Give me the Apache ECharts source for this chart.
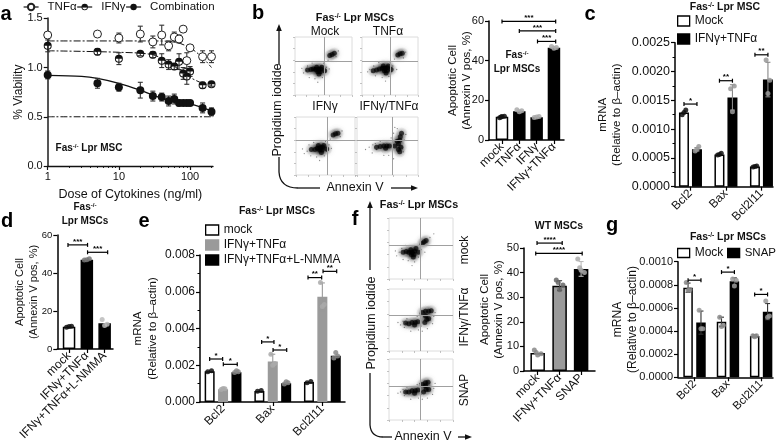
<!DOCTYPE html>
<html><head><meta charset="utf-8">
<style>html,body{margin:0;padding:0;background:#fff}#c{width:778px;height:444px;filter:blur(.3px)}</style>
<script src="https://cdn.jsdelivr.net/npm/echarts@6/dist/echarts.min.js"></script>
</head><body><div id="c"></div>
<script>
// ---------- DATA ----------
const doses=[1,5,10,20,30,40,50,60,70,80,90,100,150,200];
const tnfViability=[1.33,1.34,1.30,1.34,1.26,1.33,1.22,1.31,1.29,1.39,1.07,1.20,1.11,1.11];
const tnfErr=[.03,.02,.05,.08,.06,.1,.05,.05,.04,.02,.08,.02,.06,.06];
const ifnViability=[1.22,1.16,1.09,1.14,1.13,1.07,1.03,1.01,1.06,.94,.91,.96,.82,.83];
const ifnErr=[.06,.03,.06,.02,.03,.07,.05,.03,.08,.06,.08,.05,.03,.02];
const comboViability=[.925,.84,.80,.77,.71,.70,.66,.68,.64,.64,.64,.64,.59,.55];
const comboErr=[.04,.05,.04,.08,.05,.04,.05,.05,.03,.02,.02,.02,.05,.04];
const tnfFit=[[1,1.27],[10,1.27],[30,1.27],[60,1.26],[100,1.2],[150,1.1],[200,1.0]];
const ifnFit=[[1,1.17],[10,1.155],[30,1.13],[50,1.05],[70,.98],[100,.9],[150,.84],[200,.82]];
const comboFit=[[1,.92],[3,.91],[5,.89],[10,.84],[20,.77],[30,.72],[50,.67],[100,.63],[200,.56]];
const halfLine=[[1,.5],[210,.5]];
const doseMajorTicks=[1,10,100];
const doseMinorTicks=[2,3,4,5,6,7,8,9,20,30,40,50,60,70,80,90,200];

const bLabels=['mock','TNFα','IFNγ','IFNγ+TNFα'];
const bMock=[11.7], bTreated=[14.5,11.5,46.5];
const bMockDots=[[11.2,12,11.8,11.6]], bTreatedDots=[[15.2,14.8,14.3],[11.3,11.9,11.6],[47.2,46.6,46.2]];
const bSig=[59.8,55,49.7];

const geneLabels=['Bcl2','Bax','Bcl2l11'];
const cMock=[.00129,.00056,.00035], cTreated=[.00065,.00155,.00186];
const cMockDots=[[.00125,.00133,.00129],[.00055,.00058,.00056],[.00034,.00036,.00035]];
const cTreatedDots=[[.00062,.00070,.00065],[.00170,.00175,.00130],[.00220,.00185,.00162]];
const cTreatedErr=[.00003,.00022,.0003];
const cSig=[.001435,.00184,.00229];

const dLabels=['mock','IFNγ+TNFα','IFNγ+TNFα+L-NMMA'];
const dMock=[11.7], dTreated=[47], dNmma=[13.5];
const dMockDots=[[11.5,12,11.8]], dTreatedDots=[[46.8,47.5,47]], dNmmaDots=[[15.5,13,12.4]];
const dSig=[54.8,50.9];

const eMock=[.00167,.0006,.00109], eTreated=[.0007,.0022,.00573], eNmma=[.00162,.00102,.00252];
const eMockDots=[[.00165,.0017],[.00058,.00062],[.00105,.00112]];
const eTreatedDots=[[.00068,.00072,.00074],[.0026,.0021,.0020],[.0065,.0053,.0052]];
const eNmmaDots=[[.0016,.00165,.0017],[.00098,.00105,.0011],[.0024,.0025,.0027]];
const eTreatedErr=[.00005,.0004,.00075];
const eSig=[.00234,.00205,.00327,.00283,.00677,.00711];

const fLabels=['mock','IFNγ+TNFα','SNAP'];
const fMock=[7.3], fTreated=[34.7], fSnap=[41.5];
const fMockDots=[[8.5,7,6.5,7.5]], fTreatedDots=[[37,35,33,36]], fSnapDots=[[45.5,40,41,42]];
const fSnapErr=[3], fTreatedErr=[2];
const fSig=[52,47.8];

const gMock=[.000775,.00048,.000357], gSnap=[.000473,.00083,.000568];
const gMockDots=[[.00082,.00076,.00075],[.00052,.00045,.00044],[.00036,.00036,.00035]];
const gSnapDots=[[.00058,.00042,.00042],[.00085,.00084,.00079],[.00066,.00053,.00052]];
const gSnapErr=[.0001,.00003,.00007], gMockErr=[.00004,.00004,.00001];
const gSig=[.00084,.00091,.000717];

// flow cytometry clouds, read by eye (x,y in plot percent)
const flowBMockDense=[[41,44],[36,44],[45,45],[40,40],[44,40],[32,45],[38,48],[47,48],[28,44],[42,36],[22,43],[52,42],[65,70],[61,68],[69,72]];
const flowBMockSparse=[[20,42],[15,38],[25,30],[30,55],[52,38],[55,48],[58,60],[50,55],[35,28],[48,30],[22,50],[60,45],[72,66],[76,76],[12,46],[40,22]];
const flowBTnfDense=[[41,46],[36,46],[45,47],[40,42],[44,42],[31,45],[38,50],[47,50],[26,43],[43,38],[20,42],[52,44],[68,71],[64,69],[72,72]];
const flowBTnfSparse=[[18,40],[14,44],[24,33],[30,56],[53,40],[55,50],[58,62],[50,57],[36,30],[48,32],[21,50],[62,44],[74,64],[78,74],[10,40],[42,24]];
const flowBIfnDense=[[41,47],[36,46],[45,48],[40,43],[44,43],[32,44],[38,51],[47,51],[43,39],[26,44],[52,45],[67,71],[63,69],[71,72]];
const flowBIfnSparse=[[19,41],[14,37],[25,33],[30,56],[52,41],[56,52],[58,62],[50,58],[35,31],[48,33],[22,52],[60,46],[75,66],[78,76],[11,45],[40,25]];
const flowBComboDense=[[49,50],[44,50],[53,50],[47,46],[38,49],[32,48],[70,60],[68,54],[72,48],[68,44],[71,66],[73,72],[70,40],[66,58],[62,50]];
const flowBComboSparse=[[20,48],[14,44],[25,38],[30,54],[32,44],[56,64],[60,72],[58,40],[52,34],[44,34],[78,60],[80,70],[66,80],[62,82],[76,40],[60,28],[38,58],[26,52]];
const flowFMockDense=[[36,44],[31,44],[40,46],[35,40],[39,40],[27,45],[34,48],[42,50],[38,36],[22,44],[46,44],[55,61],[52,58],[58,63]];
const flowFMockSparse=[[16,44],[12,38],[22,32],[26,55],[46,36],[50,48],[48,56],[44,54],[30,30],[40,28],[20,50],[56,44],[64,68],[70,74],[10,46],[36,22]];
const flowFIfnDense=[[41,46],[36,46],[45,47],[31,44],[40,42],[26,45],[59,51],[56,46],[62,52],[57,57],[57,64],[62,64],[52,62],[66,65]];
const flowFIfnSparse=[[18,42],[14,46],[24,38],[28,52],[50,40],[48,60],[46,34],[70,56],[72,62],[34,32],[68,44],[60,36],[26,44],[22,48],[44,56],[52,32]];
const flowFSnapDense=[[41,48],[36,48],[45,49],[31,46],[40,44],[26,46],[58,50],[54,46],[62,50],[57,56],[57,61],[61,62],[52,58]];
const flowFSnapSparse=[[18,46],[14,44],[24,40],[28,54],[50,42],[48,60],[46,36],[70,52],[72,60],[34,34],[68,42],[60,36],[26,46],[22,50],[44,58],[52,34]];

// ---------- HELPERS ----------
const FF='"Liberation Sans",Arial,sans-serif';
const grid=[],xAxis=[],yAxis=[],series=[],graphic=[],legend=[];

function errSeries(gi,data,color,cap){
  return {type:'custom',xAxisIndex:gi,yAxisIndex:gi,z:4,silent:true,data,encode:{x:0,y:[1,2]},
    renderItem(p,api){
      const a=api.coord([api.value(0),api.value(1)]),b=api.coord([api.value(0),api.value(2)]);
      const st={stroke:color,lineWidth:1.1},c=cap||2.5;
      return {type:'group',children:[
        {type:'line',shape:{x1:a[0],y1:a[1],x2:b[0],y2:b[1]},style:st},
        {type:'line',shape:{x1:a[0]-c,y1:a[1],x2:a[0]+c,y2:a[1]},style:st},
        {type:'line',shape:{x1:b[0]-c,y1:b[1],x2:b[0]+c,y2:b[1]},style:st}]};
    }};
}
function sigSeries(gi,data,label){
  return {type:'custom',xAxisIndex:gi,yAxisIndex:gi,z:6,silent:true,data,encode:{x:[0,1],y:2},
    renderItem(p,api){
      const a=api.coord([api.value(0),api.value(2)]),b=api.coord([api.value(1),api.value(2)]);
      const st={stroke:'#000',lineWidth:1.2};
      return {type:'group',children:[
        {type:'line',shape:{x1:a[0],y1:a[1],x2:b[0],y2:b[1]},style:st},
        {type:'line',shape:{x1:a[0],y1:a[1]-2,x2:a[0],y2:a[1]+2},style:st},
        {type:'line',shape:{x1:b[0],y1:b[1]-2,x2:b[0],y2:b[1]+2},style:st},
        {type:'text',style:{text:label[p.dataIndex],x:(a[0]+b[0])/2,y:a[1]-3.5,textAlign:'center',textVerticalAlign:'middle',font:'bold 8px '+FF,fill:'#000'}}]};
    }};
}
const spread=[-.14,.14,0,-.06,.06];
function barPanel(c){
  const gi=grid.length;
  grid.push({left:c.x0,top:c.y0,width:c.x1-c.x0,height:c.y1-c.y0});
  const labelMap={};c.centers.forEach((v,i)=>labelMap[v]=c.labels[i]);
  xAxis.push({type:'value',gridIndex:gi,min:0,max:c.xMax,splitLine:{show:false},
    axisLine:{lineStyle:{color:'#000',width:1.5}},
    axisTick:{show:true,length:4,customValues:c.centers,lineStyle:{color:'#000',width:1.2}},
    axisLabel:{customValues:c.centers,rotate:45,margin:5,color:'#111',fontSize:c.xFont,fontFamily:FF,formatter:v=>labelMap[v]||''}});
  yAxis.push({type:'value',gridIndex:gi,min:0,max:c.yMax,interval:c.yInt,splitLine:{show:false},
    name:c.yName,nameLocation:'middle',nameGap:c.nameGap,nameMoveOverlap:false,nameTextStyle:{color:'#111',fontSize:c.nameFont||11.5,lineHeight:c.nameLH||14,fontFamily:FF},
    axisLine:{show:true,lineStyle:{color:'#000',width:1.5}},
    axisTick:{show:true,length:4,lineStyle:{color:'#000',width:1.2}},
    minorTick:{show:!!c.minor,splitNumber:2,length:2.5,lineStyle:{color:'#000',width:1}},
    axisLabel:{margin:5,color:'#111',fontSize:c.yFont,fontFamily:FF,formatter:v=>v.toFixed(c.dec)}});
  c.bars.forEach(b=>{
    series.push({type:'bar',name:b.name,xAxisIndex:gi,yAxisIndex:gi,barWidth:c.barW,barGap:'-100%',z:2,silent:true,
      itemStyle:{color:b.fill,borderColor:b.stroke||'#000',borderWidth:1.5},
      data:b.vals.map((v,i)=>[c.xs[b.slots[i]],v])});
    if(b.errs) series.push(errSeries(gi,b.errs.map((e,i)=>[c.xs[b.slots[i]],b.vals[i]-e,b.vals[i]+e]),b.errColor||'#555'));
    const pts=[];
    b.dots.forEach((arr,i)=>arr.forEach((v,j)=>pts.push([c.xs[b.slots[i]]+spread[j%5]*(c.spreadK||1),v])));
    series.push({type:'scatter',xAxisIndex:gi,yAxisIndex:gi,z:5,silent:true,symbolSize:c.dotSize||5,data:pts,
      itemStyle:{color:b.dotColor,opacity:.85}});
  });
  series.push(sigSeries(gi,c.sig,c.sigLabels));
}
function flowPlot(x0,y0,x1,y1,dense,sparse,vx,hy){
  const gi=grid.length;
  grid.push({left:x0,top:y0,width:x1-x0,height:y1-y0,show:true,borderColor:'#dcdcdc',borderWidth:1,backgroundColor:'#fff'});
  const ax={min:0,max:100,interval:20,gridIndex:gi,type:'value',splitLine:{show:false},axisLabel:{show:false},
    axisLine:{show:false},axisTick:{show:true,length:2,lineStyle:{color:'#aaa',width:.7}}};
  xAxis.push(ax);yAxis.push(Object.assign({},ax));
  series.push({type:'scatter',xAxisIndex:gi,yAxisIndex:gi,silent:true,z:2,symbolSize:11,data:dense,itemStyle:{color:'#555',opacity:.06,shadowBlur:6,shadowColor:'#555'},
    markLine:{silent:true,symbol:'none',animation:false,label:{show:false},lineStyle:{color:'#a0a0a0',width:1,type:'solid'},data:[{xAxis:vx},{yAxis:hy}]}});
  series.push({type:'scatter',xAxisIndex:gi,yAxisIndex:gi,silent:true,z:3,symbolSize:5,data:dense,itemStyle:{color:'#000',opacity:.65,shadowBlur:4,shadowColor:'#000'}});
  series.push({type:'scatter',xAxisIndex:gi,yAxisIndex:gi,silent:true,z:3,symbolSize:1.3,data:sparse,itemStyle:{color:'#000',opacity:.45}});
}
function txt(s,x,y,size,o){
  o=o||{};
  graphic.push({type:'text',x,y,rotation:o.rot||0,z:10,silent:true,style:{text:s,font:(o.bold?'bold ':'')+size+'px '+FF,fill:o.fill||'#111',textAlign:o.align||'center',textVerticalAlign:'middle'}});
}
function fas(x,y,tail,size){
  graphic.push({type:'text',x,y,z:10,silent:true,style:{text:'{b|Fas}{s|-/-}{b|'+tail+'}',textAlign:'center',textVerticalAlign:'middle',
    rich:{b:{font:'bold '+size+'px '+FF,fill:'#111'},s:{font:'bold '+(size*.62)+'px '+FF,fill:'#111',verticalAlign:'top',padding:[0,0,4,0]}}}});
}
function ln(pts,w){graphic.push({type:'polyline',silent:true,z:10,shape:{points:pts},style:{stroke:'#111',lineWidth:w||1.3,fill:null}});}
function arrow(tip,dir){ // filled arrow head
  const [x,y]=tip,s=2.8,l=7;
  const p=dir==='up'?[[x,y],[x-s,y+l],[x+s,y+l]]:[[x,y],[x-l,y-s],[x-l,y+s]];
  graphic.push({type:'polygon',silent:true,z:10,shape:{points:p},style:{fill:'#111'}});
}
function curve(x1,y1,cx,cy,x2,y2){graphic.push({type:'bezierCurve',silent:true,z:10,shape:{x1,y1,x2,y2,cpx1:cx,cpy1:cy},style:{stroke:'#111',lineWidth:1.3,fill:null}});}

// ---------- PANEL A ----------
const aGrid=0;
(function(){
  const gi=grid.length;
  grid.push({left:47.7,top:18.3,width:165.3,height:147.7});
  const xb={type:'log',logBase:10,gridIndex:gi,min:1,max:210,splitLine:{show:false},minorSplitLine:{show:false}};
  xAxis.push(Object.assign({},xb,{axisLine:{lineStyle:{color:'#111',width:1.3}},
    axisTick:{show:true,length:4,customValues:doseMajorTicks,lineStyle:{color:'#111',width:1.2}},
    axisLabel:{customValues:doseMajorTicks,color:'#111',fontSize:11,margin:5,fontFamily:FF,formatter:v=>String(Math.round(v))},
    name:'Dose of Cytokines (ng/ml)',nameLocation:'middle',nameGap:22,nameTextStyle:{color:'#111',fontSize:12.5,fontFamily:FF}}));
  yAxis.push({type:'value',gridIndex:gi,min:0,max:1.5,interval:.5,splitLine:{show:false},
    name:'% Viability',nameLocation:'middle',nameGap:22.7,nameMoveOverlap:false,nameTextStyle:{color:'#111',fontSize:12,fontFamily:FF},
    axisLine:{show:true,lineStyle:{color:'#555',width:2}},axisTick:{show:true,length:4,lineStyle:{color:'#111',width:1.2}},
    axisLabel:{margin:5,color:'#111',fontSize:11,fontFamily:FF,formatter:v=>v.toFixed(1)}});
  const half='path://M0,-10 A10,10 0 1,1 0,10 A10,10 0 1,1 0,-10 Z M0,-7.6 A7.6,7.6 0 1,0 0,7.6 A7.6,7.6 0 1,0 0,-7.6 Z M-8,0 A8,8 0 0,1 8,0 Z';
  const fit=(name,d,type)=>series.push({type:'line',name,xAxisIndex:gi,yAxisIndex:gi,data:d,showSymbol:false,smooth:.3,silent:true,z:3,
    lineStyle:{color:'#111',width:type==='solid'?1.3:1,type}});
  const dd=[7,2,2,2];
  fit('tnfFit',tnfFit,dd);fit('ifnFit',ifnFit,dd);fit('comboFit',comboFit,'solid');fit('half',halfLine,dd);
  const pts=(name,v,e,sym,style)=>{
    series.push(errSeries(gi,doses.map((d,i)=>[d,v[i]-e[i],v[i]+e[i]]),'#333',2.5));
    series.push({type:'line',name,xAxisIndex:gi,yAxisIndex:gi,z:5,silent:true,symbol:sym,symbolSize:8,showSymbol:true,
      lineStyle:{width:0},itemStyle:style,data:doses.map((d,i)=>[d,v[i]])});
  };
  pts('TNFα',tnfViability,tnfErr,'circle',{color:'#fff',borderColor:'#222',borderWidth:1});
  pts('IFNγ',ifnViability,ifnErr,half,{color:'#111'});
  pts('Combination',comboViability,comboErr,'circle',{color:'#111'});
  legend.push({left:23,top:1,padding:0,orient:'horizontal',selectedMode:false,itemWidth:15,itemHeight:8,itemGap:0,
    data:['TNFα','IFNγ','Combination'],lineStyle:{width:1.2,color:'#111'},textStyle:{fontSize:11.5,color:'#111',fontFamily:FF,padding:[0,5,0,4]}});
})();

// ---------- PANELS B-G BARS ----------
const K='#000',W='#fff',G='#9a9a9a';
barPanel({x0:489,x1:564,y0:21,y1:140,xMax:4.33,xs:[.75,1.75,2.75,3.75],centers:[.75,1.75,2.75,3.75],labels:bLabels,
  yMax:60,yInt:20,dec:0,yFont:11,xFont:12,barW:12.5,yName:'Apoptotic Cell\n(Annexin V pos, %)',nameGap:15,
  bars:[{name:'mock',vals:bMock,slots:[0],fill:W,dots:bMockDots,dotColor:'#111'},
        {name:'treated',vals:bTreated,slots:[1,2,3],fill:K,dots:bTreatedDots,dotColor:'#aaa'}],
  sig:[[.75,3.85,bSig[0]],[1.75,3.85,bSig[1]],[2.8,3.85,bSig[2]]],sigLabels:['***','***','***']});
barPanel({x0:675,x1:773,y0:42.7,y1:186.7,xMax:7.54,xs:[.69,1.69,3.42,4.42,6.15,7.15],centers:[1.19,3.92,6.65],labels:geneLabels,
  yMax:.0025,yInt:.0005,dec:4,minor:true,yFont:12.5,xFont:12,barW:10,yName:'mRNA\n(Relative to β–actin)',nameGap:51,
  bars:[{name:'Mock',vals:cMock,slots:[0,2,4],fill:W,dots:cMockDots,dotColor:'#111'},
        {name:'IFNγ+TNFα',vals:cTreated,slots:[1,3,5],fill:K,dots:cTreatedDots,dotColor:'#999',errs:cTreatedErr,errColor:'#888'}],
  sig:[[.69,1.69,cSig[0]],[3.42,4.42,cSig[1]],[6.15,7.15,cSig[2]]],sigLabels:['*','**','**']});
barPanel({x0:57.3,x1:113,y0:235,y1:349,xMax:3.13,xs:[.66,1.66,2.66],centers:[.66,1.66,2.66],labels:dLabels,
  yMax:60,yInt:20,dec:0,yFont:9.5,xFont:12,barW:12.5,yName:'Apoptotic Cell\n(Annexin V pos, %)',nameGap:16,nameFont:11,
  bars:[{name:'mock',vals:dMock,slots:[0],fill:W,dots:dMockDots,dotColor:'#111'},
        {name:'IFNγ+TNFα',vals:dTreated,slots:[1],fill:K,dots:dTreatedDots,dotColor:'#777'},
        {name:'L-NMMA',vals:dNmma,slots:[2],fill:K,dots:dNmmaDots,dotColor:'#bbb'}],
  sig:[[.6,1.7,dSig[0]],[1.7,2.83,dSig[1]]],sigLabels:['***','***']});
barPanel({x0:200,x1:345,y0:255,y1:402,xMax:10.82,xs:[.72,1.72,2.72,4.43,5.43,6.43,8.13,9.13,10.13],centers:[1.72,5.43,9.13],labels:geneLabels,
  yMax:.008,yInt:.002,dec:3,minor:true,yFont:12,xFont:12,barW:10,yName:'mRNA\n(Relative to β–actin)',nameGap:39.5,nameLH:15,
  bars:[{name:'mock',vals:eMock,slots:[0,3,6],fill:W,dots:eMockDots,dotColor:'#111'},
        {name:'IFNγ+TNFα',vals:eTreated,slots:[1,4,7],fill:G,stroke:G,dots:eTreatedDots,dotColor:'#aaa',errs:eTreatedErr,errColor:'#999'},
        {name:'IFNγ+TNFα+L-NMMA',vals:eNmma,slots:[2,5,8],fill:K,dots:eNmmaDots,dotColor:'#888'}],
  sig:[[.72,1.69,eSig[0]],[1.74,2.78,eSig[1]],[4.6,5.52,eSig[2]],[5.45,6.47,eSig[3]],[8.06,9.08,eSig[4]],[9.18,10.2,eSig[5]]],
  sigLabels:['*','*','*','*','**','**']});
barPanel({x0:524,x1:595,y0:248,y1:371,xMax:3.27,xs:[.63,1.64,2.63],centers:[.63,1.64,2.63],labels:fLabels,
  yMax:50,yInt:10,dec:0,yFont:11,xFont:12,barW:14.5,yName:'Apoptotic Cell\n(Annexin V pos, %)',nameGap:18,spreadK:1.1,
  bars:[{name:'mock',vals:fMock,slots:[0],fill:W,dots:fMockDots,dotColor:'#888'},
        {name:'IFNγ+TNFα',vals:fTreated,slots:[1],fill:G,dots:fTreatedDots,dotColor:'#666',errs:fTreatedErr,errColor:'#444'},
        {name:'SNAP',vals:fSnap,slots:[2],fill:K,dots:fSnapDots,dotColor:'#aaa',errs:fSnapErr,errColor:'#bbb'}],
  sig:[[.6,1.76,fSig[0]],[.54,2.68,fSig[1]]],sigLabels:['****','****']});
barPanel({x0:678,x1:773,y0:261.7,y1:377.3,xMax:7.36,xs:[.78,1.78,3.37,4.37,5.94,6.94],centers:[1.28,3.88,6.44],labels:geneLabels,
  yMax:.001,yInt:.0002,dec:4,yFont:11,xFont:11.5,barW:9.5,yName:'mRNA\n(Relative to β–actin)',nameGap:37.5,nameFont:12,nameLH:15,
  bars:[{name:'Mock',vals:gMock,slots:[0,2,4],fill:W,dots:gMockDots,dotColor:'#888',errs:gMockErr,errColor:'#333'},
        {name:'SNAP',vals:gSnap,slots:[1,3,5],fill:K,dots:gSnapDots,dotColor:'#999',errs:gSnapErr,errColor:'#333'}],
  sig:[[.78,1.78,gSig[0]],[3.37,4.37,gSig[1]],[5.94,6.94,gSig[2]]],sigLabels:['*','*','*']});

// ---------- LEGENDS ----------
const box=(name,fill,stroke)=>({name,icon:'rect',itemStyle:{color:fill,borderColor:stroke||'#000',borderWidth:1.3}});
const legTxt={fontSize:12,color:'#111',fontFamily:FF};
legend.push({left:677,top:15,padding:0,orient:'vertical',selectedMode:false,itemWidth:12,itemHeight:10,itemGap:6,textStyle:legTxt,
  data:[box('Mock','#fff'),box('IFNγ+TNFα','#000')]});
legend.push({left:205,top:224,padding:0,orient:'vertical',selectedMode:false,itemWidth:13,itemHeight:10,itemGap:3,textStyle:legTxt,
  data:[box('mock','#fff'),box('IFNγ+TNFα',G,G),box('IFNγ+TNFα+L-NMMA','#000')]});
legend.push({left:677,top:247,padding:0,selectedMode:false,itemWidth:12,itemHeight:9,textStyle:legTxt,data:[box('Mock','#fff')]});
legend.push({left:727,top:247,padding:0,selectedMode:false,itemWidth:12,itemHeight:9,textStyle:{fontSize:11.5,color:'#111',fontFamily:FF},data:[box('SNAP','#000')]});

// ---------- FLOW PLOTS ----------
flowPlot(295,37,352,95,flowBMockDense,flowBMockSparse,51,58);
flowPlot(362,37,418,95,flowBTnfDense,flowBTnfSparse,51,58);
flowPlot(296,117,355,175,flowBIfnDense,flowBIfnSparse,53,60);
flowPlot(357,117,418,175,flowBComboDense,flowBComboSparse,57,60);
flowPlot(389,218,453,279,flowFMockDense,flowFMockSparse,49,56);
flowPlot(389,289,453,351,flowFIfnDense,flowFIfnSparse,49,57);
flowPlot(389,359,453,420,flowFSnapDense,flowFSnapSparse,49,56);

// minor ticks of the log dose axis (extra axis, index after all others)
xAxis.push({type:'log',logBase:10,gridIndex:aGrid,min:1,max:210,position:'bottom',splitLine:{show:false},
  axisLine:{show:false},axisLabel:{show:false},axisTick:{show:true,length:2,customValues:doseMinorTicks,lineStyle:{color:'#111',width:.9}}});

// ---------- TEXT & ARROWS ----------
[['a',6,14],['b',258,13],['c',590,14],['d',7,221],['e',144,221],['f',355,219],['g',612,225]].forEach(t=>txt(t[0],t[1],t[2],20,{bold:true,fill:'#000'}));
fas(89,148,' Lpr MSC',10);
fas(355,18,' Lpr MSCs',10.8);
txt('Mock',325,32,12);txt('TNFα',388,32,12);txt('IFNγ',325,107,12);txt('IFNγ/TNFα',389,107,12);
txt('Propidium iodide',278,110,12.5,{rot:Math.PI/2});
txt('Annexin V',355,188,12.5);
ln([[279,65],[279,30]]);arrow([279,24],'up');
ln([[279,157],[279,172]]);curve(279,172,280,188,298,188);ln([[298,188],[320,188]]);
ln([[391,188],[412,188]]);arrow([418,188],'right');
fas(517,55,'',10);txt('Lpr MSCs',517,69,10,{bold:true});
fas(725,7,' Lpr MSC',10.5);
fas(85,207,'',10);txt('Lpr MSCs',85,221,10,{bold:true});
fas(277,211,' Lpr MSCs',10.5);
fas(419,205,' Lpr MSCs',10.8);
ln([[370,270],[370,207]]);arrow([370,201],'up');
ln([[370,373],[370,425]]);curve(370,425,371,437,383,437);ln([[383,437],[392,437]]);
txt('Propidium iodide',372,323,12.5,{rot:Math.PI/2});
txt('Annexin V',423,437,12.5);
ln([[458,437],[467,437]]);arrow([472,437],'right');
txt('mock',465,250,12,{rot:Math.PI/2});txt('IFNγ/TNFα',465,317,12,{rot:Math.PI/2});txt('SNAP',465,390,12,{rot:Math.PI/2});
txt('WT MSCs',559,226,10.5,{bold:true});
fas(728,237,' Lpr MSCs',10.5);

const chart=echarts.init(document.getElementById('c'));
chart.setOption({animation:false,textStyle:{fontFamily:FF},tooltip:{show:false},grid,xAxis,yAxis,series,legend,graphic:{elements:graphic}});
</script></body></html>
